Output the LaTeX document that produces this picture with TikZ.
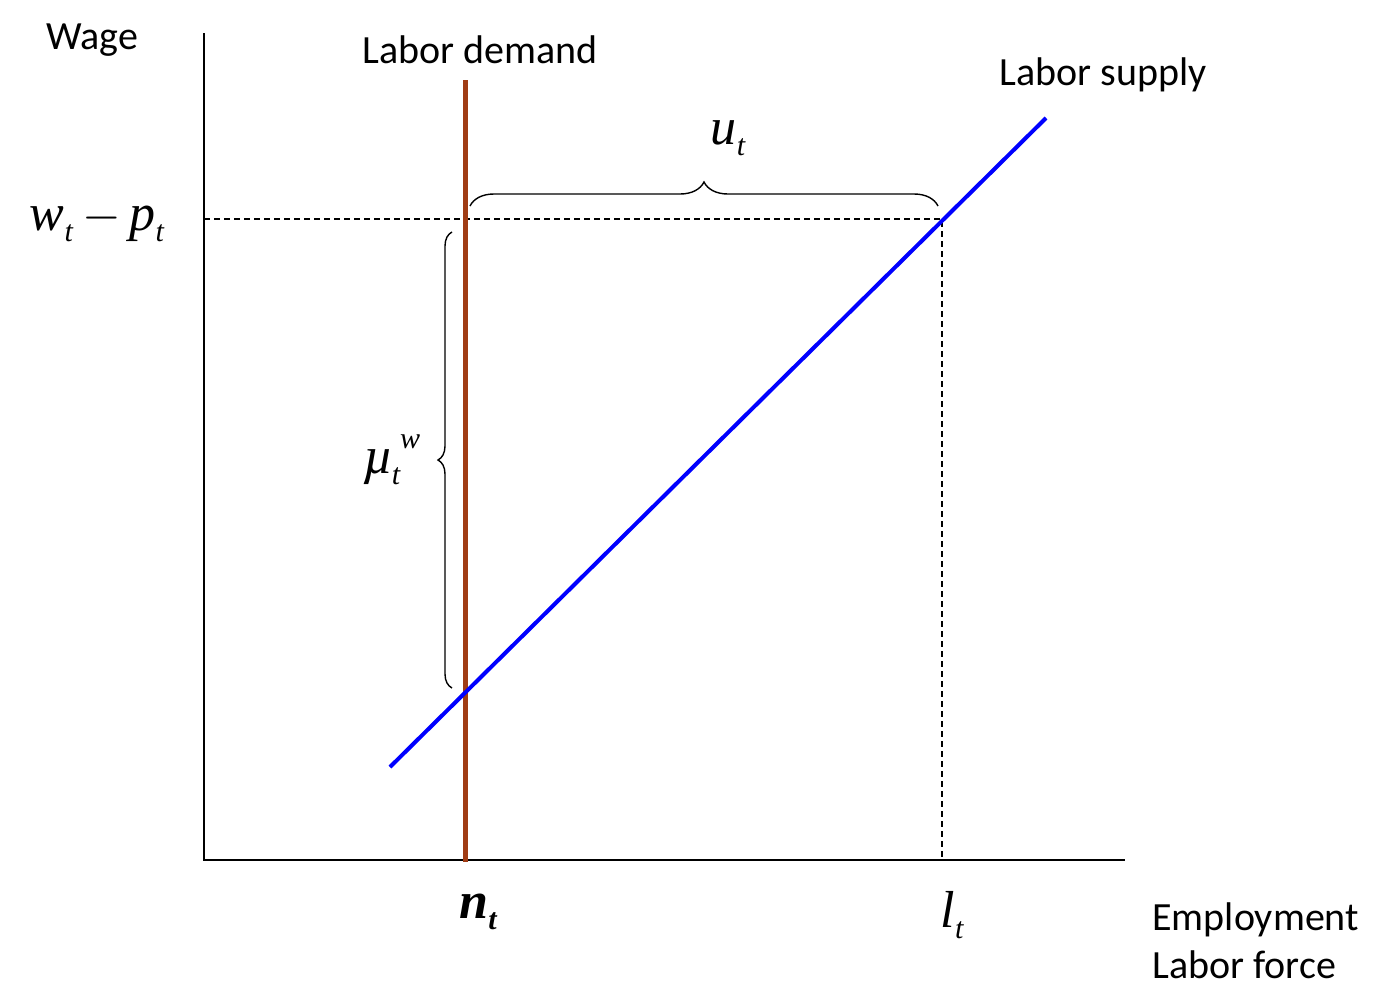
\documentclass[tikz,border=0pt]{standalone}
\usepackage{amsmath}
\usepackage{fontspec}
\setmainfont{Carlito}
\newfontfamily\tms{Liberation Serif}
\usepackage{tikz}
\usetikzlibrary{positioning}
\usetikzlibrary{decorations.pathreplacing}
\definecolor{demandbrown}{RGB}{160,60,20}
% italic letter with a lowered index
\newcommand{\symb}[2]{{\tms\itshape #1\raisebox{-0.45ex}{\fontsize{15}{15}\selectfont #2}}}
\begin{document}
\begin{tikzpicture}[x=0.5pt,y=-0.5pt]
            \tikzset{every node/.style={inner sep=0pt},
                    txt/.style={font=\fontsize{20}{24}\selectfont},
                    sym/.style={font=\fontsize{26}{30}\selectfont},
                    guide/.style={draw=black, line width=0.7pt, dash pattern=on 3pt off 2pt},
                    brace/.style={draw=black, line width=0.7pt, decorate}}
            \useasboundingbox (0,0) rectangle (1392,1002);
            % axes
            \coordinate (O) at (204,860);
            \coordinate (ytop) at (204,33);
            \coordinate (xend) at (1125,860);
            \draw[line width=1pt] (ytop) -- (O) -- (xend);
            % curves
            \coordinate (d1) at (465,80);
            \coordinate (d2) at (465,862);
            \coordinate (s1) at (390,767);
            \coordinate (s2) at (1046,118);
            \coordinate (E) at (942,219);
            \coordinate (Ey) at (204,219);
            \coordinate (Ex) at (942,860);
            \draw[guide] (Ey) -- (E) -- (Ex);
            \draw[demandbrown, line width=2.5pt] (d1) -- (d2);
            \draw[blue, line width=2pt] (s1) -- (s2);
            % braces
            \coordinate (b1) at (470,206);
            \coordinate (b2) at (938,206);
            \coordinate (b3) at (452,688);
            \coordinate (b4) at (452,232);
            \draw[brace, decoration={brace, amplitude=12pt}] (b1) -- (b2);
            \draw[brace, decoration={brace, amplitude=7pt}] (b3) -- (b4);
            % labels
            \node[txt] (wage) at (92,40) {Wage};
            \node[txt] (ld) at (480,50) {Labor demand};
            \node[txt] (ls) at (1103,75) {Labor supply};
            \node[sym] (wp) at (97,222) {\symb{w}{t}\hspace{5pt}$-$\hspace{4pt}\symb{p}{t}};
            \node[sym] (ut) at (728,138) {\symb{u}{t}};
            \node[sym] (mu) at (392,460) {{\tms\itshape\textmu}\hspace{-1pt}\raisebox{-0.45ex}{\fontsize{15}{15}\selectfont\tms\itshape t}\hspace{0pt}\raisebox{1.0ex}{\fontsize{15}{15}\selectfont\tms\itshape w}};
            \node[sym] (nt) at (478,912) {\bfseries\symb{n}{t}};
            \node[sym] (lt) at (952,915) {\symb{l}{t}};
            \node[txt, align=left, anchor=north west] (el) at (1152,902) {Employment\\Labor force};
        \end{tikzpicture}
\end{document}
